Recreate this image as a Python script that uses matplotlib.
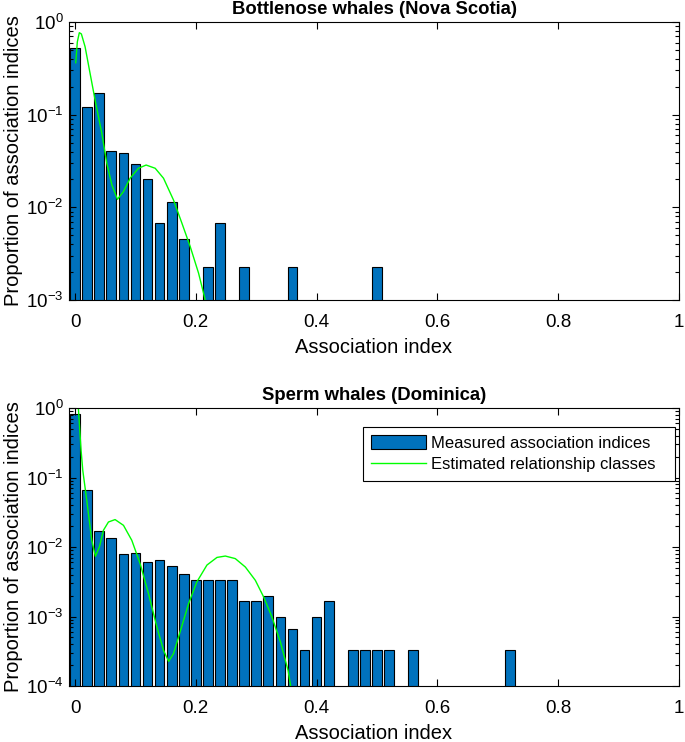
import matplotlib
matplotlib.use('Agg')
import matplotlib.pyplot as plt
from matplotlib.patches import Patch
from matplotlib.lines import Line2D
import matplotlib.ticker as mticker

plt.rcParams['font.family'] = ['Liberation Sans', 'DejaVu Sans']
plt.rcParams['mathtext.fontset'] = 'custom'
plt.rcParams['mathtext.rm'] = 'Liberation Sans'

# Bottlenose whales (Nova Scotia): bin centres and proportions (non-empty bins)
bn_bins = [0.00, 0.02, 0.04, 0.06, 0.08, 0.10, 0.12, 0.14, 0.16, 0.18, 0.22, 0.24, 0.28, 0.36, 0.50]
bn_prop = [0.53, 0.121, 0.173, 0.041, 0.039, 0.0296, 0.0204, 0.0068, 0.0115, 0.00457,
           0.00228, 0.0068, 0.00228, 0.00228, 0.00228]

# estimated relationship classes curve
bn_fit_x = [0.0012, 0.0038, 0.0071, 0.0105, 0.0166, 0.0249, 0.0332, 0.0443, 0.0526, 0.0609,
            0.0702, 0.0802, 0.0912, 0.105, 0.1177, 0.1327, 0.1465, 0.163, 0.177, 0.1907,
            0.2045, 0.2156]
bn_fit_y = [0.364, 0.61, 0.767, 0.743, 0.542, 0.279, 0.144, 0.063, 0.0299, 0.0175,
            0.0122, 0.0148, 0.0206, 0.0264, 0.0286, 0.0264, 0.0206, 0.0120, 0.00673, 0.00377,
            0.00195, 0.0010]

# Sperm whales (Dominica)
sw_bins = [0.00, 0.02, 0.04, 0.06, 0.08, 0.10, 0.12, 0.14, 0.16, 0.18, 0.20, 0.22, 0.24, 0.26,
           0.28, 0.30, 0.32, 0.34, 0.36, 0.38, 0.40, 0.42, 0.46, 0.48, 0.50, 0.52, 0.56, 0.72]
sw_prop = [0.83, 0.0654, 0.0168, 0.0135, 0.0078, 0.0081, 0.0061, 0.0064, 0.0053, 0.0041,
           0.00335, 0.00335, 0.00335, 0.00335, 0.00167, 0.00167, 0.0020, 0.0010, 0.00067, 0.00033,
           0.0010, 0.00167, 0.00033, 0.00033, 0.00033, 0.00033, 0.00033, 0.00033]

sw_fit_x = [0.0055, 0.0100, 0.0128, 0.0194, 0.0277, 0.0337, 0.0403, 0.0470, 0.0553, 0.0663,
            0.0802, 0.0940, 0.1078, 0.1216, 0.1355, 0.1465, 0.1550, 0.1630, 0.1740, 0.1880,
            0.2018, 0.2184, 0.2350, 0.2488, 0.2653, 0.2820, 0.2985, 0.3123, 0.3260, 0.3400,
            0.3527, 0.3570]
sw_fit_y = [1.0, 0.246, 0.127, 0.047, 0.01247, 0.00735, 0.0100, 0.0174, 0.0229, 0.0248,
            0.0205, 0.01247, 0.00575, 0.00214, 0.000708, 0.000326, 0.000226, 0.000292, 0.000603, 0.00153,
            0.00316, 0.0055, 0.00708, 0.00741, 0.00681, 0.00515, 0.00332, 0.00191, 0.000984, 0.000430,
            0.000168, 0.0001]

bar_color = '#0072BD'
W, H = 685, 742

fig = plt.figure(figsize=(W / 100, H / 100), dpi=100)
ax1 = fig.add_axes([69 / W, 1 - 300 / H, 610 / W, 278 / H])
ax2 = fig.add_axes([69 / W, 1 - 686 / H, 610 / W, 278 / H])


def style(ax, ylo, title):
    ax.set_yscale('log')
    ax.set_xlim(-0.01, 1.0)
    ax.set_ylim(ylo, 1)
    ax.set_xticks([0, 0.2, 0.4, 0.6, 0.8, 1.0])
    ax.xaxis.set_major_formatter(mticker.FormatStrFormatter('%g'))
    ax.yaxis.set_major_locator(mticker.LogLocator(base=10, numticks=10))
    ax.yaxis.set_minor_locator(mticker.LogLocator(base=10, subs=range(2, 10), numticks=10))
    ax.tick_params(which='both', direction='in', top=True, right=True, labelsize=13.5, width=0.8)
    ax.tick_params(which='major', length=5)
    ax.tick_params(which='minor', length=3)
    ax.tick_params(axis='x', pad=10)
    ax.tick_params(axis='y', pad=4)
    for s in ax.spines.values():
        s.set_linewidth(0.8)
    ax.set_xlabel('Association index', fontsize=14.5, labelpad=5)
    ax.set_ylabel('Proportion of association indices', fontsize=14.5, labelpad=2)
    ax.set_title(title, fontsize=13.3, fontweight='bold', pad=6)


ax1.bar(bn_bins, bn_prop, width=0.016, color=bar_color, edgecolor='black', linewidth=0.8)
ax1.plot(bn_fit_x, bn_fit_y, color='#00FF00', linewidth=1.0)
style(ax1, 1e-3, 'Bottlenose whales (Nova Scotia)')

ax2.bar(sw_bins, sw_prop, width=0.016, color=bar_color, edgecolor='black', linewidth=0.8)
ax2.plot(sw_fit_x, sw_fit_y, color='#00FF00', linewidth=1.0)
style(ax2, 1e-4, 'Sperm whales (Dominica)')

handles = [Patch(facecolor=bar_color, edgecolor='black', linewidth=0.8),
           Line2D([], [], color='#00FF00', linewidth=1.0)]
leg = ax2.legend(handles, ['Measured association indices', 'Estimated relationship classes'],
                 loc='upper left', bbox_to_anchor=(0.482, 0.5, 0.5115, 0.4317), mode='expand',
                 borderaxespad=0, fontsize=12, fancybox=False, framealpha=1, edgecolor='black',
                 handlelength=3.3, handleheight=0.9, handletextpad=0.3,
                 borderpad=0.5, labelspacing=0.35)
leg.get_frame().set_linewidth(0.8)

fig.savefig('out.png', dpi=100)
